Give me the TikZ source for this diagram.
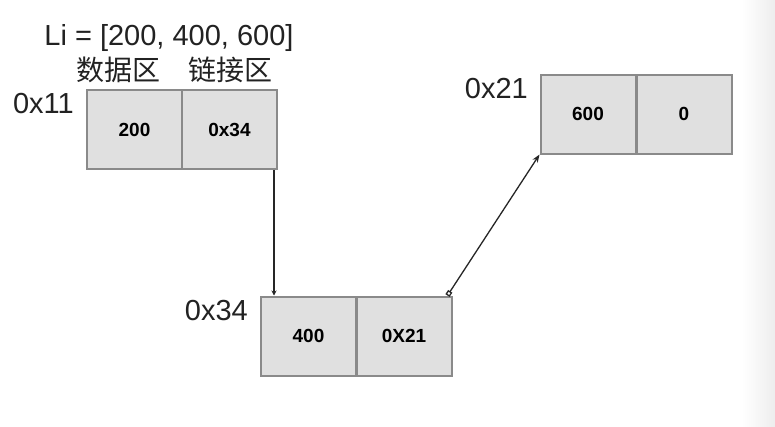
\documentclass[tikz,border=0pt]{standalone}
\usepackage{fontspec}
\setmainfont{Liberation Sans}
\newfontfamily\cjk{Noto Sans CJK SC}
\usetikzlibrary{arrows.meta}
\definecolor{cellfill}{HTML}{E0E0E0}
\definecolor{cellline}{HTML}{8A8A8A}
\definecolor{labgray}{HTML}{222222}
\tikzset{
  cell/.style={draw=cellline, fill=cellfill, line width=2pt, minimum width=95pt, minimum height=79pt, inner sep=0pt,
    font=\fontsize{19}{19}\selectfont\bfseries, text=black},
  addr/.style={font=\fontsize{29}{29}\selectfont, text=labgray, anchor=east, inner sep=0pt},
  title/.style={font=\fontsize{29}{29}\selectfont, text=labgray, inner sep=0pt},
  zh/.style={font=\cjk\fontsize{28}{28}\selectfont, text=labgray, inner sep=0pt},
  link/.style={line width=1.3pt, draw=black!85},
}
\begin{document}
\begin{tikzpicture}[x=1pt,y=-1pt]
\useasboundingbox (0,0) rectangle (775,426);
\fill[white] (0,0) rectangle (775,426);
\shade[left color=white, right color=black!7] (742,0) rectangle (775,426);
% titles
\node[title] (li) at (169,38) {Li = [200, 400, 600]};
\node[zh] (data) at (118,70) {数据区};
\node[zh] (lnk) at (230,70) {链接区};
% addresses
\node[addr] (ad1) at (74,104) {0x11};
\node[addr] (ad2) at (248,311) {0x34};
\node[addr] (ad3) at (528,89) {0x21};
% nodes
\node[cell] (a1) at (134.5,129.5) {200};
\node[cell] (a2) at (229.5,129.5) {0x34};
\node[cell] (b1) at (308.5,336) {400};
\node[cell] (b2) at (404,336) {0X21};
\node[cell] (c1) at (588,114) {600};
\node[cell] (c2) at (684,114) {0};
% links
\draw[link, -{Stealth[length=5pt,width=5pt]}] ([xshift=-4pt]a2.south east) -- ([xshift=-4pt]a2.south east |- b1.north);
\draw[link, {Square[open,fill=white,length=5pt,width=5pt]}-{Stealth[length=8pt,width=6pt]}] ([xshift=-5pt]b2.north east) -- (c1.south west);
\end{tikzpicture}
\end{document}
